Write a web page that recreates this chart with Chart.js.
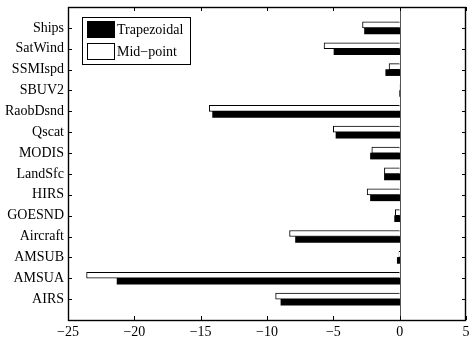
<!DOCTYPE html>
<html>
<head>
<meta charset="utf-8">
<script src="https://cdn.jsdelivr.net/npm/chart.js@4"></script>
<style>
  html, body { margin: 0; padding: 0; background: #fff; }
  #wrap { width: 472px; height: 337px; }
</style>
</head>
<body>
<div id="wrap"><canvas id="graphCanvas" width="472" height="337"></canvas></div>
<script>
// categories listed top to bottom
var categories = ['Ships', 'SatWind', 'SSMIspd', 'SBUV2', 'RaobDsnd', 'Qscat', 'MODIS',
    'LandSfc', 'HIRS', 'GOESND', 'Aircraft', 'AMSUB', 'AMSUA', 'AIRS'];
var trapezoidal = [-2.65, -4.95, -1.05, 0.05, -14.1, -4.8, -2.2, -1.15, -2.2, -0.38, -7.85, -0.18, -21.3, -8.95];
var midpoint = [-2.8, -5.7, -0.8, 0.05, -14.35, -5.0, -2.1, -1.15, -2.45, -0.33, -8.3, -0.05, -23.6, -9.35];
var xTicks = [-25, -20, -15, -10, -5, 0, 5];

// pad with an empty slot at each end so ticks sit like matlab's axis
var labels = [''].concat(categories, ['']);
function pad(arr) { return [null].concat(arr, [null]); }

var FONT = 'Liberation Serif';

// frame, inward ticks, zero line and boxed legend
var decor = {
    id: 'decor',
    afterDatasetsDraw: function (chart) {
        var c = chart.ctx, a = chart.chartArea;
        var xs = chart.scales.x, ys = chart.scales.y;
        c.save();
        // zero line
        var x0 = Math.round(xs.getPixelForValue(0)) + 0.5;
        c.strokeStyle = '#555';
        c.lineWidth = 1;
        c.beginPath(); c.moveTo(x0, a.top); c.lineTo(x0, a.bottom); c.stroke();

        c.strokeStyle = '#000';
        c.beginPath();
        xTicks.forEach(function (v) {
            var px = Math.round(xs.getPixelForValue(v)) + 0.5;
            c.moveTo(px, a.bottom); c.lineTo(px, a.bottom - 4);
            c.moveTo(px, a.top); c.lineTo(px, a.top + 4);
        });
        for (var i = 1; i <= categories.length; i++) {
            var py = Math.round(ys.getPixelForValue(i)) + 0.5;
            c.moveTo(a.left, py); c.lineTo(a.left + 4, py);
            c.moveTo(a.right, py); c.lineTo(a.right - 4, py);
        }
        c.stroke();
        c.lineWidth = 1.4;
        c.strokeRect(Math.round(a.left) + 0.5, Math.round(a.top) + 0.5,
            Math.round(a.right - a.left) - 1, Math.round(a.bottom - a.top));

        // legend
        c.lineWidth = 1;
        var lx = a.left + 14, ly = a.top + 10;
        c.fillStyle = '#fff';
        c.fillRect(lx, ly, 108, 47);
        c.strokeRect(lx + 0.5, ly + 0.5, 108, 47);
        var ds = chart.data.datasets;
        var order = [1, 0];
        c.font = '14px "' + FONT + '"';
        c.textBaseline = 'middle';
        order.forEach(function (di, k) {
            var d = ds[di];
            var by = ly + 4 + k * 22;
            c.fillStyle = d.backgroundColor;
            c.fillRect(lx + 5, by, 28, 17);
            c.strokeStyle = '#000';
            c.strokeRect(lx + 5.5, by + 0.5, 27, 16);
            c.fillStyle = '#000';
            c.fillText(d.label, lx + 35, by + 9);
        });
        c.restore();
    }
};

const ctx = document.getElementById('graphCanvas').getContext('2d');
const myChart = new Chart(ctx, {
    type: 'bar',
    data: {
        labels: labels,
        datasets: [{
            label: 'Mid\u2212point',
            data: pad(midpoint),
            backgroundColor: '#ffffff',
            borderColor: '#000000',
            borderWidth: 1,
            barThickness: 6
        }, {
            label: 'Trapezoidal',
            data: pad(trapezoidal),
            backgroundColor: '#000000',
            borderWidth: 0,
            barThickness: 6
        }]
    },
    options: {
        indexAxis: 'y',
        responsive: false,
        animation: false,
        layout: { padding: { top: 7, right: 6, left: 0, bottom: 0 } },
        plugins: { legend: { display: false }, tooltip: { enabled: false } },
        scales: {
            x: {
                type: 'linear',
                min: -25,
                max: 5,
                afterBuildTicks: function (s) { s.ticks = xTicks.map(function (v) { return { value: v }; }); },
                afterFit: function (s) { s.height = 17; s.paddingLeft = 0; s.paddingRight = 0; },
                grid: { display: false, drawTicks: false },
                border: { display: false },
                ticks: {
                    padding: 4,
                    color: '#000',
                    font: { family: FONT, size: 14 },
                    callback: function (v) { return String(v).replace('-', '\u2212'); }
                }
            },
            y: {
                type: 'category',
                offset: false,
                afterFit: function (s) { s.width = 68; s.paddingTop = 0; s.paddingBottom = 0; },
                grid: { display: false, drawTicks: false },
                border: { display: false },
                ticks: {
                    padding: 4,
                    color: '#000',
                    autoSkip: false,
                    font: { family: FONT, size: 14 }
                }
            }
        }
    },
    plugins: [decor]
});
</script>
</body>
</html>
